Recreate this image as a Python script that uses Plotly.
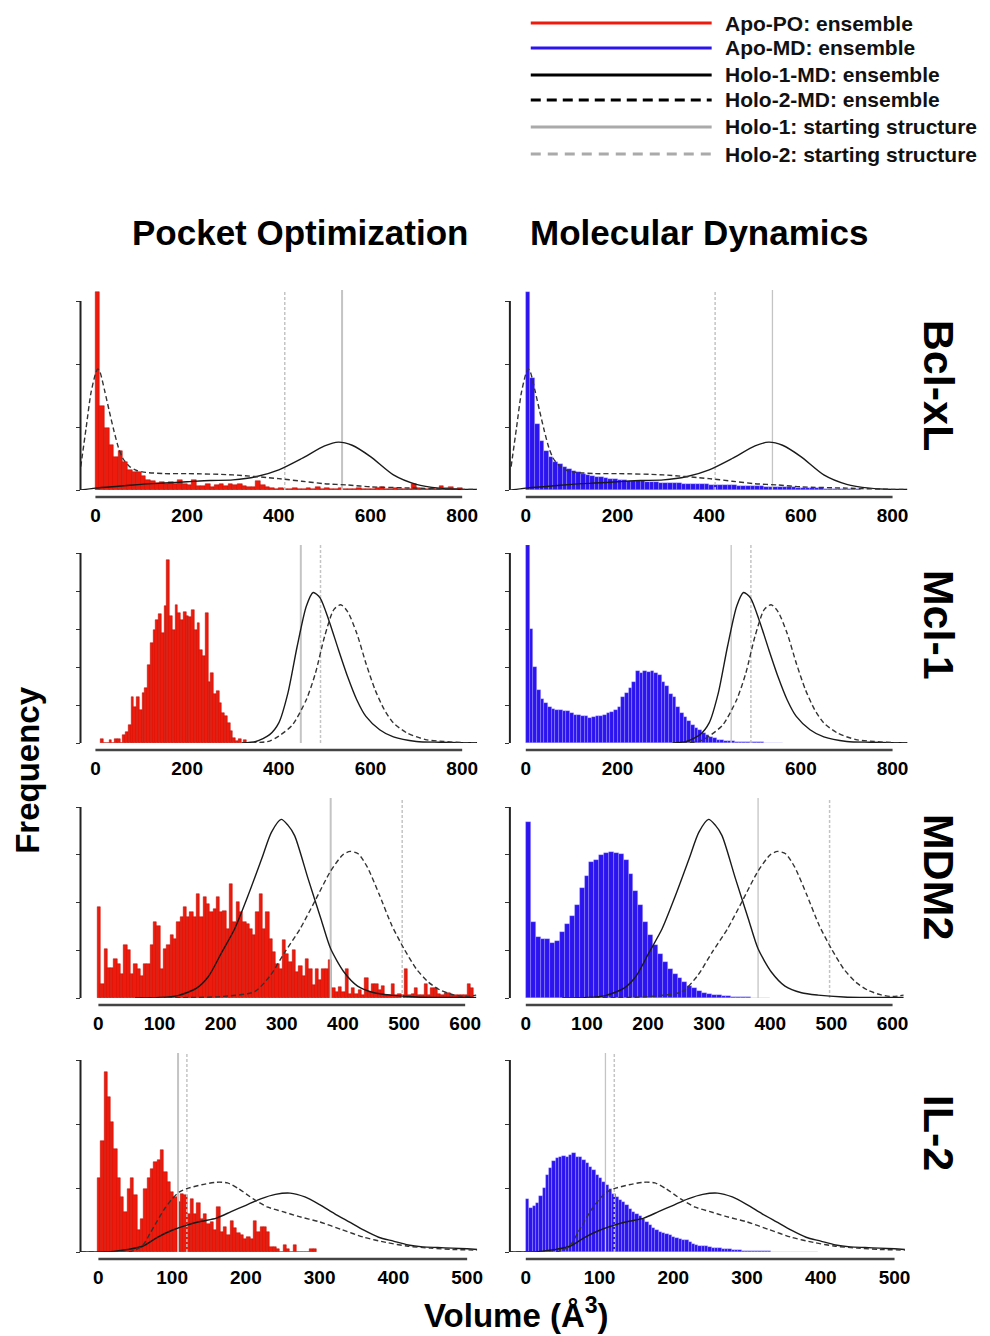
import numpy as np
import plotly.graph_objects as go

W, H = 990, 1336
FONT = "Liberation Sans, Arial, Helvetica, sans-serif"

# ---------------- data ----------------
proteins = ["Bcl-xL", "Mcl-1", "MDM2", "IL-2"]
methods = ["Pocket Optimization", "Molecular Dynamics"]
x_tick_max = [800, 800, 600, 500]
x_tick_step = [200, 200, 100, 100]
y_tick_count = [3, 5, 4, 3]
holo1_start = [538, 448, 380, 108]
holo2_start = [413, 491, 497, 120]

legend_labels = ["Apo-PO: ensemble", "Apo-MD: ensemble", "Holo-1-MD: ensemble",
                 "Holo-2-MD: ensemble", "Holo-1: starting structure",
                 "Holo-2: starting structure"]

# Bcl-xL
bcl_po_start, bcl_po_width = 0, 10
bcl_po = [3.14, 1.34, 0.98, 0.72, 0.53, 0.62, 0.45, 0.31, 0.29, 0.28,
          0.22, 0.16, 0.15, 0.11, 0.13, 0.10, 0.12, 0.09, 0.16, 0.10,
          0.08, 0.16, 0.06, 0.07, 0.09, 0.05, 0.08, 0.10, 0.07, 0.10,
          0.08, 0.09, 0.06, 0.04, 0.05, 0.14, 0.08, 0.05, 0.03, 0.02,
          0.03, 0.01, 0.02, 0.03, 0.01, 0.02, 0.03, 0.01, 0.04, 0.02,
          0.03, 0.01, 0.02, 0.03, 0.01, 0.02, 0.01, 0.03, 0.02, 0.01,
          0.02, 0.03, 0.04, 0.02, 0.01, 0.03, 0.02, 0.01, 0.02, 0.09,
          0.03, 0.02, 0.01, 0.03, 0.02, 0.06, 0.03, 0.04, 0.02, 0.03]
bcl_md_start, bcl_md_width = 0, 10
bcl_md = [3.14, 1.78, 1.05, 0.78, 0.62, 0.52, 0.45, 0.41, 0.37, 0.33,
          0.30, 0.28, 0.26, 0.24, 0.22, 0.21, 0.20, 0.19, 0.18, 0.17,
          0.165, 0.16, 0.15, 0.145, 0.14, 0.135, 0.13, 0.125, 0.12, 0.118,
          0.115, 0.11, 0.108, 0.105, 0.10, 0.098, 0.095, 0.093, 0.09, 0.088,
          0.085, 0.083, 0.08, 0.078, 0.075, 0.072, 0.07, 0.068, 0.065, 0.062,
          0.06, 0.058, 0.055, 0.052, 0.05, 0.047, 0.045, 0.042, 0.04, 0.037,
          0.035, 0.032, 0.03, 0.028, 0.025, 0.023, 0.02, 0.018, 0.016, 0.014,
          0.012, 0.01, 0.009, 0.008, 0.007, 0.006, 0.005, 0.004, 0.003, 0.002]
bcl_h1_x = [-32, 0, 50, 100, 150, 200, 250, 300, 350, 400, 450, 500, 530, 560,
            600, 650, 700, 750, 800, 832]
bcl_h1_y = [0.0, 0.03, 0.06, 0.09, 0.11, 0.13, 0.15, 0.16, 0.21, 0.32, 0.50, 0.70,
            0.76, 0.71, 0.53, 0.24, 0.09, 0.03, 0.01, 0.01]
bcl_h2_x = [-32, -20, -10, 0, 5, 10, 20, 30, 40, 50, 60, 75, 90, 110, 150, 200,
            300, 400, 450, 500, 550, 600, 700, 800, 832]
bcl_h2_y = [0.37, 1.0, 1.53, 1.84, 1.92, 1.87, 1.58, 1.26, 0.95, 0.68, 0.50, 0.37,
            0.31, 0.28, 0.26, 0.26, 0.24, 0.18, 0.14, 0.10, 0.08, 0.05, 0.03, 0.01, 0.01]

# Mcl-1
mcl_po_start, mcl_po_width = 12, 6
mcl_po = [0.10, 0, 0, 0.09, 0, 0.10, 0.10, 0, 0.20, 0.28,
          0.48, 1.21, 0.96, 1.21, 0.88, 1.32, 1.45, 2.06, 2.63, 2.98,
          3.23, 3.40, 2.90, 3.60, 4.82, 3.33, 2.98, 3.64, 3.42, 3.25,
          3.46, 3.33, 3.32, 3.49, 2.98, 3.16, 2.46, 2.30, 3.42, 1.60,
          1.84, 1.30, 1.36, 1.05, 0.79, 0.70, 0.53, 0.31, 0.13, 0.06,
          0.10, 0, 0.09]
mcl_md_start, mcl_md_width = 0, 8
mcl_md = [5.2, 3.0, 2.0, 1.4, 1.15, 1.05, 0.95, 0.90, 0.88, 0.86,
          0.84, 0.83, 0.80, 0.75, 0.74, 0.72, 0.70, 0.66, 0.68, 0.70,
          0.70, 0.74, 0.79, 0.82, 0.88, 0.95, 1.20, 1.32, 1.45, 1.60,
          1.89, 1.85, 1.90, 1.86, 1.90, 1.84, 1.80, 1.60, 1.50, 1.30,
          1.20, 0.95, 0.80, 0.68, 0.58, 0.48, 0.40, 0.33, 0.26, 0.20,
          0.15, 0.12, 0.09, 0.07, 0.06, 0.05, 0.04, 0.035, 0.03, 0.03,
          0.025, 0.02, 0.02, 0.015, 0.015, 0.01, 0.01, 0.008, 0.006, 0.005]
mcl_h1_x = [320, 350, 380, 400, 420, 440, 460, 475, 490, 510, 530, 550, 570, 590,
            620, 650, 700, 750, 800, 833]
mcl_h1_y = [0, 0.04, 0.22, 0.53, 1.32, 2.54, 3.60, 3.96, 3.82, 3.20, 2.46, 1.75,
            1.14, 0.70, 0.35, 0.16, 0.04, 0.02, 0.01, 0.01]
mcl_h2_x = [340, 380, 400, 430, 460, 480, 500, 520, 535, 550, 570, 590, 610, 630,
            650, 680, 720, 760, 800, 833]
mcl_h2_y = [0, 0.05, 0.18, 0.48, 1.14, 1.84, 2.81, 3.51, 3.64, 3.46, 2.89, 2.10,
            1.40, 0.88, 0.53, 0.26, 0.09, 0.04, 0.01, 0.01]

# MDM2
mdm_po_start, mdm_po_width = -1.5, 5.4
mdm_po = [1.90, 0.30, 1.02, 0.63, 0.63, 0.81, 0.72, 0.51, 1.10, 1.00,
          0.51, 0.72, 0.61, 0.47, 0.72, 0.72, 1.10, 1.60, 1.51, 0.61,
          1.02, 1.10, 1.31, 1.24, 1.59, 1.69, 1.90, 1.69, 1.80, 1.69,
          2.18, 1.69, 2.11, 1.97, 1.80, 1.87, 2.11, 1.80, 1.83, 1.45,
          2.39, 1.59, 2.01, 1.80, 1.59, 1.55, 1.45, 1.31, 1.80, 2.18,
          1.45, 1.80, 1.24, 0.96, 0.72, 0.61, 1.21, 0.93, 0.75, 1.00,
          0.54, 0.68, 0.47, 0.82, 0.61, 0.28, 0.61, 0.37, 0.61, 0.61,
          0.79, 0.21, 0.13, 0.23, 0.13, 0.61, 0.09, 0.20, 0.09, 0.16,
          0.06, 0.42, 0.13, 0.30, 0.30, 0.16, 0.26, 0.07, 0.06, 0.30,
          0.06, 0.09, 0.06, 0.61, 0.06, 0.09, 0.21, 0.06, 0.06, 0.30,
          0.06, 0.21, 0.20, 0.09, 0.06, 0.11, 0.11, 0.06, 0.07, 0.06,
          0.06, 0.07, 0.30, 0.21]
mdm_md_start, mdm_md_width = 0, 8
mdm_md = [3.68, 1.60, 1.28, 1.24, 1.24, 1.15, 1.20, 1.38, 1.55, 1.72,
          1.95, 2.30, 2.55, 2.85, 2.90, 3.00, 3.03, 3.05, 3.03, 3.02,
          2.90, 2.60, 2.25, 1.95, 1.60, 1.32, 1.10, 0.93, 0.75, 0.61,
          0.51, 0.42, 0.33, 0.26, 0.20, 0.15, 0.11, 0.09, 0.07, 0.055,
          0.045, 0.035, 0.03, 0.022, 0.018, 0.014, 0.01, 0.008, 0.006, 0.004]
mdm_h1_x = [60, 100, 130, 160, 180, 202, 223, 245, 267, 283, 299, 310, 321, 343,
            364, 380, 402, 424, 451, 478, 520, 560, 600, 618]
mdm_h1_y = [0, 0.01, 0.05, 0.20, 0.45, 0.96, 1.45, 2.15, 2.91, 3.47, 3.74, 3.62,
            3.40, 2.50, 1.66, 1.03, 0.54, 0.25, 0.11, 0.06, 0.02, 0.01, 0.01, 0.01]
mdm_h2_x = [60, 150, 200, 255, 280, 305, 330, 355, 380, 400, 412, 425, 440, 460,
            480, 500, 520, 540, 560, 580, 600, 618]
mdm_h2_y = [0, 0.01, 0.03, 0.13, 0.45, 0.96, 1.45, 2.05, 2.66, 3.00, 3.07, 3.02,
            2.74, 2.15, 1.52, 1.03, 0.61, 0.33, 0.16, 0.07, 0.03, 0.06]

# IL-2
il2_po_start, il2_po_width = -1.35, 4.5
il2_po = [1.15, 1.74, 2.82, 2.42, 2.03, 1.61, 1.15, 0.86, 0.63, 0.99,
          1.15, 0.89, 0.34, 0.52, 0.99, 1.16, 1.30, 1.40, 1.43, 1.59,
          1.25, 1.09, 0.94, 0.86, 0.78, 0.91, 0.89, 0.60, 0.83, 0.60,
          0.76, 0.52, 0.60, 0.44, 0.47, 0.34, 0.70, 0.31, 0.39, 0.26,
          0.49, 0.38, 0.29, 0.26, 0.21, 0.23, 0.21, 0.48, 0.31, 0.39,
          0.39, 0.31, 0.08, 0.08, 0.04, 0.0, 0.11, 0.04, 0.0, 0.11,
          0.0, 0.0, 0.0, 0.0, 0.04, 0.04]
il2_md_start, il2_md_width = 0, 4.5
il2_md = [0.83, 0.68, 0.72, 0.76, 0.88, 1.00, 1.20, 1.32, 1.42, 1.47,
          1.48, 1.50, 1.49, 1.51, 1.55, 1.48, 1.48, 1.43, 1.39, 1.33,
          1.28, 1.21, 1.15, 1.09, 1.04, 0.99, 0.91, 0.86, 0.81, 0.78,
          0.73, 0.67, 0.63, 0.60, 0.56, 0.51, 0.47, 0.42, 0.38, 0.35,
          0.32, 0.30, 0.28, 0.26, 0.24, 0.22, 0.21, 0.19, 0.18, 0.16,
          0.13, 0.11, 0.10, 0.09, 0.09, 0.08, 0.07, 0.06, 0.06, 0.05,
          0.05, 0.04, 0.03, 0.03, 0.03, 0.02, 0.02, 0.02, 0.015, 0.01,
          0.01, 0.01, 0.008, 0.008, 0.007, 0.006, 0.006, 0.005, 0.005, 0.004,
          0.004, 0.003, 0.003, 0.002, 0.002, 0.002, 0.001, 0.001]
il2_h1_x = [-24, 0, 20, 40, 60, 80, 100, 120, 140, 160, 180, 200, 220, 240, 260,
            280, 300, 320, 340, 360, 380, 400, 420, 440, 460, 480, 500, 514]
il2_h1_y = [0, 0, 0.01, 0.04, 0.09, 0.23, 0.34, 0.42, 0.48, 0.53, 0.63, 0.73, 0.83,
            0.90, 0.92, 0.86, 0.74, 0.60, 0.47, 0.34, 0.23, 0.17, 0.11, 0.08, 0.07,
            0.06, 0.05, 0.04]
il2_h2_x = [-24, 0, 40, 50, 60, 70, 80, 90, 100, 110, 120, 140, 160, 175, 190, 210,
            230, 250, 270, 300, 330, 360, 390, 420, 450, 480, 514]
il2_h2_y = [0, 0, 0.0, 0.03, 0.10, 0.29, 0.49, 0.68, 0.83, 0.94, 0.99, 1.05, 1.09,
            1.08, 0.99, 0.83, 0.70, 0.63, 0.56, 0.47, 0.35, 0.23, 0.15, 0.09, 0.06,
            0.04, 0.03]

hists = [
    [(bcl_po_start, bcl_po_width, bcl_po), (bcl_md_start, bcl_md_width, bcl_md)],
    [(mcl_po_start, mcl_po_width, mcl_po), (mcl_md_start, mcl_md_width, mcl_md)],
    [(mdm_po_start, mdm_po_width, mdm_po), (mdm_md_start, mdm_md_width, mdm_md)],
    [(il2_po_start, il2_po_width, il2_po), (il2_md_start, il2_md_width, il2_md)],
]
holo1_curves = [(bcl_h1_x, bcl_h1_y), (mcl_h1_x, mcl_h1_y), (mdm_h1_x, mdm_h1_y), (il2_h1_x, il2_h1_y)]
holo2_curves = [(bcl_h2_x, bcl_h2_y), (mcl_h2_x, mcl_h2_y), (mdm_h2_x, mdm_h2_y), (il2_h2_x, il2_h2_y)]

# ---------------- style / geometry ----------------
PO_COLOR, PO_EDGE = "#EE1A0C", "#B80800"
MD_COLOR, MD_EDGE = "#2C14F0", "rgba(190,190,255,0.55)"
bar_colors = [(PO_COLOR, PO_EDGE), (MD_COLOR, MD_EDGE)]
GRAY = "#c4c4c4"

col_px = [(81, 480), (513, 913)]
row_px = [(290, 490), (545, 743), (798, 998), (1053, 1252)]
zero_px = [[96, 529], [96, 529], [99, 529], [99, 529]]
max_px = [[465, 898], [465, 898], [468, 898], [470, 900]]
y_unit_px = [63, 38, 47.75, 64]


def px_x(p):
    return p / W


def px_y(p):
    return 1 - p / H


fig = go.Figure()
shapes = []
annotations = []
layout_axes = {}

for r in range(4):
    top, base = row_px[r]
    hpx = base - top
    ytop = hpx / y_unit_px[r]
    for c in range(2):
        k = r * 2 + c + 1
        xref = "x" if k == 1 else f"x{k}"
        yref = "y" if k == 1 else f"y{k}"
        left, right = col_px[c]
        scale = (max_px[r][c] - zero_px[r][c]) / x_tick_max[r]
        xr = [-(zero_px[r][c] - left) / scale, x_tick_max[r] + (right - max_px[r][c]) / scale]

        layout_axes["xaxis" if k == 1 else f"xaxis{k}"] = dict(
            domain=[px_x(left), px_x(right)], range=xr, anchor=yref,
            showgrid=False, zeroline=False, showline=False,
            tickvals=list(range(0, x_tick_max[r] + 1, x_tick_step[r])),
            ticks="outside", ticklen=8, tickcolor="rgba(0,0,0,0)",
            tickfont=dict(family=FONT, size=19, color="black", weight="bold"),
            fixedrange=True)
        layout_axes["yaxis" if k == 1 else f"yaxis{k}"] = dict(
            domain=[px_y(base), px_y(top)], range=[0, ytop], anchor=xref,
            showgrid=False, zeroline=False, showline=False,
            tickvals=list(range(0, y_tick_count[r] + 1)), showticklabels=False,
            ticks="outside", ticklen=4, tickwidth=1, tickcolor="#333",
            fixedrange=True)

        start, width, vals = hists[r][c]
        vals = np.array(vals, dtype=float)
        centers = start + width * (np.arange(len(vals)) + 0.5)
        fc, ec = bar_colors[c]
        fig.add_trace(go.Bar(x=centers, y=vals, width=width, xaxis=xref, yaxis=yref,
                             marker=dict(color=fc, line=dict(color=ec, width=0.5)),
                             hoverinfo="skip"))
        # starting structures
        fig.add_trace(go.Scatter(x=[holo1_start[r]] * 2, y=[0, ytop], mode="lines",
                                 xaxis=xref, yaxis=yref, hoverinfo="skip",
                                 line=dict(color=GRAY, width=2 if c == 0 else 1.3)))
        fig.add_trace(go.Scatter(x=[holo2_start[r]] * 2, y=[0, ytop], mode="lines",
                                 xaxis=xref, yaxis=yref, hoverinfo="skip",
                                 line=dict(color=GRAY, width=1.5, dash="3px,2px")))
        # holo MD ensembles
        hx, hy = holo1_curves[r]
        fig.add_trace(go.Scatter(x=hx, y=hy, mode="lines", xaxis=xref, yaxis=yref,
                                 hoverinfo="skip",
                                 line=dict(color="#1a1a1a", width=1.4, shape="spline", smoothing=0.7)))
        hx, hy = holo2_curves[r]
        fig.add_trace(go.Scatter(x=hx, y=hy, mode="lines", xaxis=xref, yaxis=yref,
                                 hoverinfo="skip",
                                 line=dict(color="#333333", width=1.4, dash="5px,3px",
                                           shape="spline", smoothing=0.7)))
        # axis lines
        shapes.append(dict(type="line", xref=xref, yref=f"{yref} domain",
                           x0=0, x1=x_tick_max[r], y0=-7 / hpx, y1=-7 / hpx,
                           line=dict(color="#444", width=2.5)))
        shapes.append(dict(type="line", xref=f"{xref} domain", yref=yref,
                           x0=0, x1=0, y0=0, y1=y_tick_count[r],
                           line=dict(color="#222", width=2)))

# legend (manual)
leg_colors = [PO_COLOR, MD_COLOR, "#000000", "#000000", "#aaaaaa", "#aaaaaa"]
leg_dash = ["solid", "solid", "solid", "10px,6px", "solid", "10px,7px"]
leg_y = [23, 48, 75, 100, 127, 154]
for lab, col, dash, yy in zip(legend_labels, leg_colors, leg_dash, leg_y):
    shapes.append(dict(type="line", xref="paper", yref="paper",
                       x0=px_x(534), x1=px_x(716), y0=px_y(yy), y1=px_y(yy),
                       line=dict(color=col, width=3, dash=dash)))
    annotations.append(dict(text=lab, xref="paper", yref="paper", x=px_x(727), y=px_y(yy),
                            xanchor="left", yanchor="middle", showarrow=False,
                            font=dict(family=FONT, size=21, color="#111", weight="bold")))

# column titles
for txt, cx in zip(methods, [302, 703]):
    annotations.append(dict(text=txt, xref="paper", yref="paper", x=px_x(cx), y=px_y(232),
                            xanchor="center", yanchor="middle", showarrow=False,
                            font=dict(family=FONT, size=35, color="black", weight="bold")))
# row labels
for txt, cy in zip(proteins, [385, 625, 877, 1133]):
    annotations.append(dict(text=txt, xref="paper", yref="paper", x=px_x(945), y=px_y(cy),
                            xanchor="center", yanchor="middle", showarrow=False, textangle=90,
                            font=dict(family=FONT, size=43, color="black", weight="bold")))
# axis titles
annotations.append(dict(text="Frequency", xref="paper", yref="paper", x=px_x(27), y=px_y(770),
                        xanchor="center", yanchor="middle", showarrow=False, textangle=-90,
                        font=dict(family=FONT, size=33, color="black", weight="bold")))
annotations.append(dict(text="Volume (Å<sup>3</sup>)", xref="paper", yref="paper",
                        x=px_x(520), y=px_y(1313), xanchor="center", yanchor="middle",
                        showarrow=False,
                        font=dict(family=FONT, size=33, color="black", weight="bold")))

fig.update_layout(width=W, height=H, margin=dict(l=0, r=0, t=0, b=0),
                  paper_bgcolor="white", plot_bgcolor="white", showlegend=False,
                  bargap=0, barmode="overlay", shapes=shapes, annotations=annotations,
                  **layout_axes)

fig.write_html("out.html")
